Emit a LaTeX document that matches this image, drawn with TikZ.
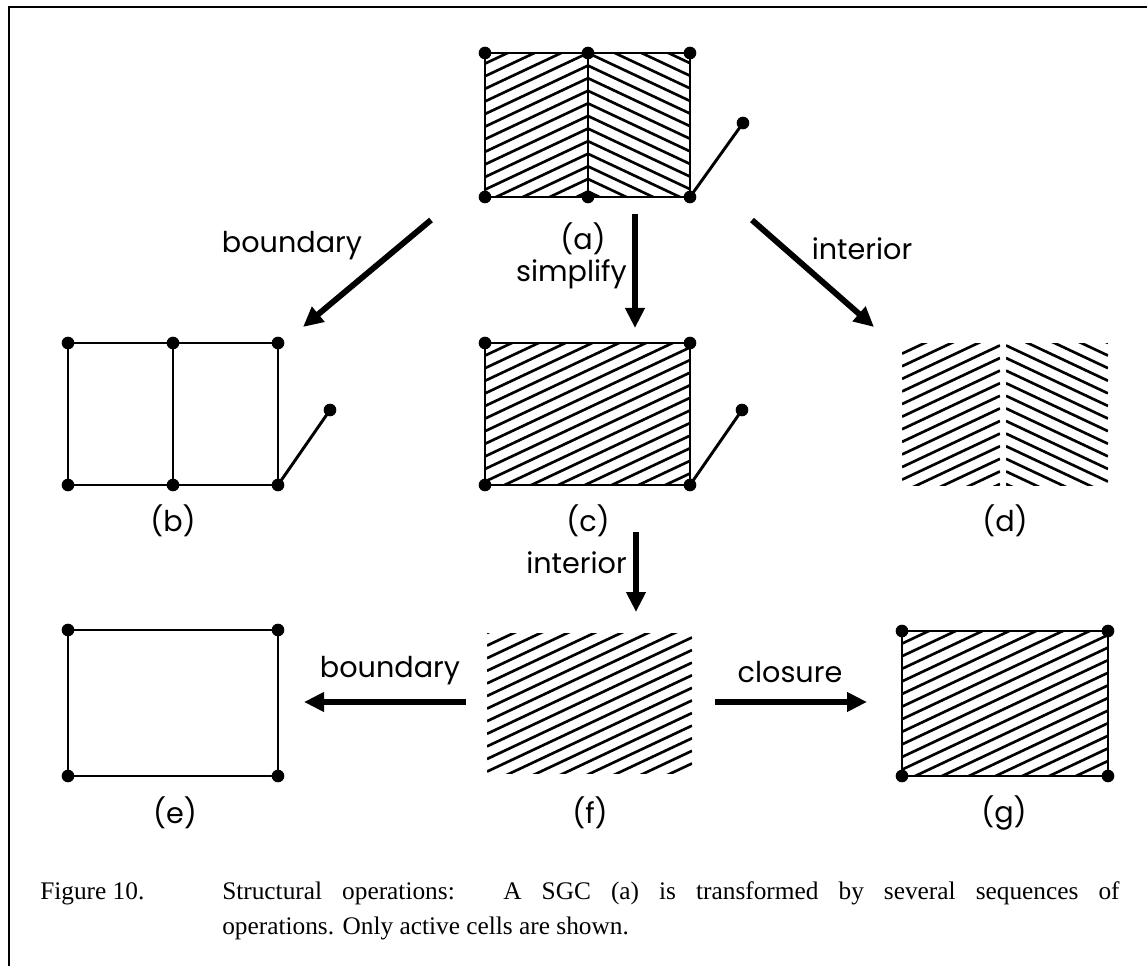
\documentclass[tikz,border=0pt]{standalone}
\usepackage{fontspec}
\setmainfont{Liberation Serif}
\newfontfamily\plotfont{Poppins}
\usetikzlibrary{arrows.meta}
% #1 x1, #2 y1, #3 x2, #4 y2, #5 x of chevron axis, #6 direction (-1 = /, 1 = \)
\newcommand\hatchfill[6]{%
  \begin{scope}
    \clip (#1,#2) rectangle (#3,#4);
    \foreach \k in {-16,...,30}{
      \draw[hatchline] ({#1},{#2+\k*12.6+#6*0.47*(#1-#5)}) -- ({#3},{#2+\k*12.6+#6*0.47*(#3-#5)});
    }
  \end{scope}}
\begin{document}
\begin{tikzpicture}[x=0.75pt,y=-0.75pt,
  edge/.style={line width=2.2pt},
  vtx/.style={circle,fill=black,inner sep=0pt,minimum size=9.5pt},
  hatchline/.style={line width=2pt},
  bigarrow/.style={line width=4.4pt,-{Triangle[length=15pt,width=14pt]}},
  lab/.style={font=\plotfont\fontsize{21.5}{24}\selectfont,inner sep=0pt},
  captext/.style={font=\fontsize{19}{22}\selectfont,inner sep=0pt,anchor=base west},
]
\useasboundingbox (0,0) rectangle (1147,966);
% frame
\coordinate (fbl) at (9,966);
\coordinate (ftl) at (9,7);
\coordinate (ftr) at (1147,7);
\draw[line width=2.2pt] (fbl) -- (ftl) -- (ftr);

% ---------- (a)
\coordinate (a1) at (485,53);
\coordinate (a2) at (588,53);
\coordinate (a3) at (690,53);
\coordinate (a4) at (485,197);
\coordinate (a5) at (588,197);
\coordinate (a6) at (690,197);
\coordinate (a7) at (743,123);
\hatchfill{485}{53}{588}{197}{588}{-1}
\hatchfill{588}{53}{690}{197}{588}{1}
\draw[edge] (a1) -- (a3) -- (a6) -- (a4) -- cycle;
\draw[edge] (a2) -- (a5);
\draw[edge] (a6) -- (a7);
\foreach \p in {a1,a2,a3,a4,a5,a6,a7} \node[vtx] at (\p) {};
\node[lab] (la) at (583,239) {(a)};

% ---------- (b)
\coordinate (b1) at (68,343);
\coordinate (b2) at (173,343);
\coordinate (b3) at (278,343);
\coordinate (b4) at (68,485);
\coordinate (b5) at (173,485);
\coordinate (b6) at (278,485);
\coordinate (b7) at (330,410);
\draw[edge] (b1) -- (b3) -- (b6) -- (b4) -- cycle;
\draw[edge] (b2) -- (b5);
\draw[edge] (b6) -- (b7);
\foreach \p in {b1,b2,b3,b4,b5,b6,b7} \node[vtx] at (\p) {};
\node[lab] (lb) at (173,521) {(b)};

% ---------- (c)
\coordinate (c1) at (485,343);
\coordinate (c2) at (690,343);
\coordinate (c3) at (485,485);
\coordinate (c4) at (690,485);
\coordinate (c5) at (742,410);
\hatchfill{485}{343}{690}{485}{485}{-1}
\draw[edge] (c1) -- (c2) -- (c4) -- (c3) -- cycle;
\draw[edge] (c4) -- (c5);
\foreach \p in {c1,c2,c3,c4,c5} \node[vtx] at (\p) {};
\node[lab] (lc) at (588,521) {(c)};

% ---------- (d)
\hatchfill{902}{344}{1000}{485}{1003}{-1}
\hatchfill{1006}{344}{1108}{485}{1003}{1}
\node[lab] (ld) at (1005,521) {(d)};

% ---------- (e)
\coordinate (e1) at (68,630);
\coordinate (e2) at (278,630);
\coordinate (e3) at (68,776);
\coordinate (e4) at (278,776);
\draw[edge] (e1) -- (e2) -- (e4) -- (e3) -- cycle;
\foreach \p in {e1,e2,e3,e4} \node[vtx] at (\p) {};
\node[lab] (le) at (175,813) {(e)};

% ---------- (f)
\hatchfill{487}{633}{692}{773}{487}{-1}
\node[lab] (lf) at (590,813) {(f)};

% ---------- (g)
\coordinate (g1) at (902,631);
\coordinate (g2) at (1108,631);
\coordinate (g3) at (902,776);
\coordinate (g4) at (1108,776);
\hatchfill{902}{631}{1108}{776}{902}{-1}
\draw[edge] (g1) -- (g2) -- (g4) -- (g3) -- cycle;
\foreach \p in {g1,g2,g3,g4} \node[vtx] at (\p) {};
\node[lab] (lg) at (1004,813) {(g)};

% ---------- arrows
\coordinate (r1s) at (431,220); \coordinate (r1e) at (303,327);
\coordinate (r2s) at (635,214); \coordinate (r2e) at (635,328);
\coordinate (r3s) at (752,220); \coordinate (r3e) at (874,327);
\coordinate (r4s) at (636,532); \coordinate (r4e) at (636,612);
\coordinate (r5s) at (466,702); \coordinate (r5e) at (304,702);
\coordinate (r6s) at (715,702); \coordinate (r6e) at (867,702);
\draw[bigarrow] (r1s) -- (r1e);
\draw[bigarrow] (r2s) -- (r2e);
\draw[bigarrow] (r3s) -- (r3e);
\draw[bigarrow] (r4s) -- (r4e);
\draw[bigarrow] (r5s) -- (r5e);
\draw[bigarrow] (r6s) -- (r6e);
\node[lab] (t1) at (292,246) {boundary};
\node[lab,anchor=east] (t2) at (627,274) {simplify};
\node[lab] (t3) at (862,249) {interior};
\node[lab,anchor=east] (t4) at (627,563) {interior};
\node[lab] (t5) at (390,671) {boundary};
\node[lab] (t6) at (790,672) {closure};

% ---------- caption
\node[captext] (cap1) at (40,899) {Figure 10.};
\node[captext] (cap2) at (222,899) {\makebox[673pt][s]{Structural operations:\hspace{0.5em} A SGC (a) is transformed by several sequences of}};
\node[captext] (cap3) at (222,934) {operations. Only active cells are shown.};
\end{tikzpicture}
\end{document}
